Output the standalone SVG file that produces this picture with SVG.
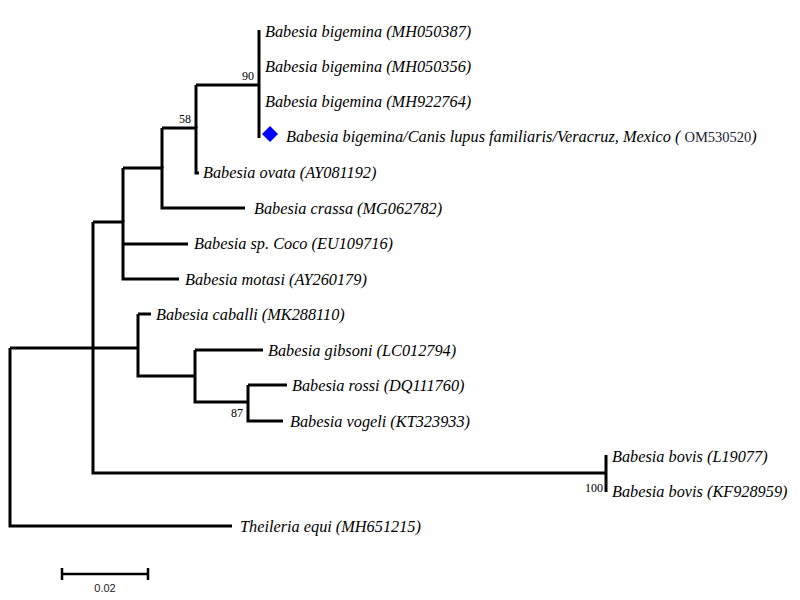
<svg xmlns="http://www.w3.org/2000/svg" width="800" height="600" viewBox="0 0 800 600">
<style>
.br{fill:none;stroke:#000;stroke-width:3;stroke-linecap:butt;stroke-linejoin:miter}
.lb{font-family:"Liberation Serif","Times New Roman",serif;font-style:italic;font-size:16.3px;fill:#000}
.bs{font-family:"Liberation Serif","Times New Roman",serif;font-size:12px;fill:#000}
.sc{font-family:"Liberation Sans",Arial,sans-serif;font-size:11px;fill:#222}
</style>
<rect width="800" height="600" fill="#fff"/>
<g id="connectors">
<path class="br" d="M10,348 V526 H232"/>
<path class="br" d="M10,348 H138"/>
<path class="br" d="M93,222 V473 H606"/>
<path class="br" d="M93,222 H123 V279 H179"/>
<path class="br" d="M123,244 H188"/>
<path class="br" d="M123,168 V222"/>
<path class="br" d="M123,168 H162 V208 H245"/>
<path class="br" d="M162,128 V168"/>
<path class="br" d="M162,128 H196 V173 H199"/>
<path class="br" d="M196,85 V128"/>
<path class="br" d="M196,85 H259"/>
<path class="br" d="M259,30 V138"/>
<path class="br" d="M138,314 V376 H195"/>
<path class="br" d="M138,314 H151"/>
<path class="br" d="M195,350 V402 H248"/>
<path class="br" d="M195,350 H263"/>
<path class="br" d="M248,385 V421 H283"/>
<path class="br" d="M248,385 H287"/>
<path class="br" d="M606,455 V492"/>
</g>
<g id="n-MH050387"><text class="lb" x="265" y="37">Babesia bigemina (MH050387)</text></g>
<g id="n-MH050356"><text class="lb" x="265" y="72">Babesia bigemina (MH050356)</text></g>
<g id="n-MH922764"><text class="lb" x="265" y="107">Babesia bigemina (MH922764)</text></g>
<g id="n-OM530520">
<polygon points="270,126 278,134 270,142 262,134" fill="#0000ff"/>
<text class="lb" x="286" y="142">Babesia bigemina/Canis lupus familiaris/Veracruz, Mexico ( <tspan font-style="normal" font-size="14.5" fill="#1a1a33">OM530520</tspan>)</text>
</g>
<g id="n-AY081192"><text class="lb" x="203" y="178">Babesia ovata (AY081192)</text></g>
<g id="n-MG062782"><text class="lb" x="254" y="214">Babesia crassa (MG062782)</text></g>
<g id="n-EU109716"><text class="lb" x="194" y="249">Babesia sp. Coco (EU109716)</text></g>
<g id="n-AY260179"><text class="lb" x="185" y="285">Babesia motasi (AY260179)</text></g>
<g id="n-MK288110"><text class="lb" x="156" y="320">Babesia caballi (MK288110)</text></g>
<g id="n-LC012794"><text class="lb" x="268" y="356">Babesia gibsoni (LC012794)</text></g>
<g id="n-DQ111760"><text class="lb" x="292" y="391">Babesia rossi (DQ111760)</text></g>
<g id="n-KT323933"><text class="lb" x="290" y="427">Babesia vogeli (KT323933)</text></g>
<g id="n-L19077"><text class="lb" x="612" y="462">Babesia bovis (L19077)</text></g>
<g id="n-KF928959"><text class="lb" x="612" y="497">Babesia bovis (KF928959)</text></g>
<g id="n-MH651215"><text class="lb" x="240" y="532">Theileria equi (MH651215)</text></g>
<g id="bootstrap">
<text class="bs" x="254" y="80" text-anchor="end">90</text>
<text class="bs" x="191" y="123" text-anchor="end">58</text>
<text class="bs" x="243" y="417" text-anchor="end">87</text>
<text class="bs" x="603" y="492" text-anchor="end">100</text>
</g>
<g id="scale">
<path class="br" d="M62,574 H148 M62,568 V580 M148,568 V580" style="stroke-width:2.5"/>
<text class="sc" x="105" y="592" text-anchor="middle">0.02</text>
</g>
</svg>
